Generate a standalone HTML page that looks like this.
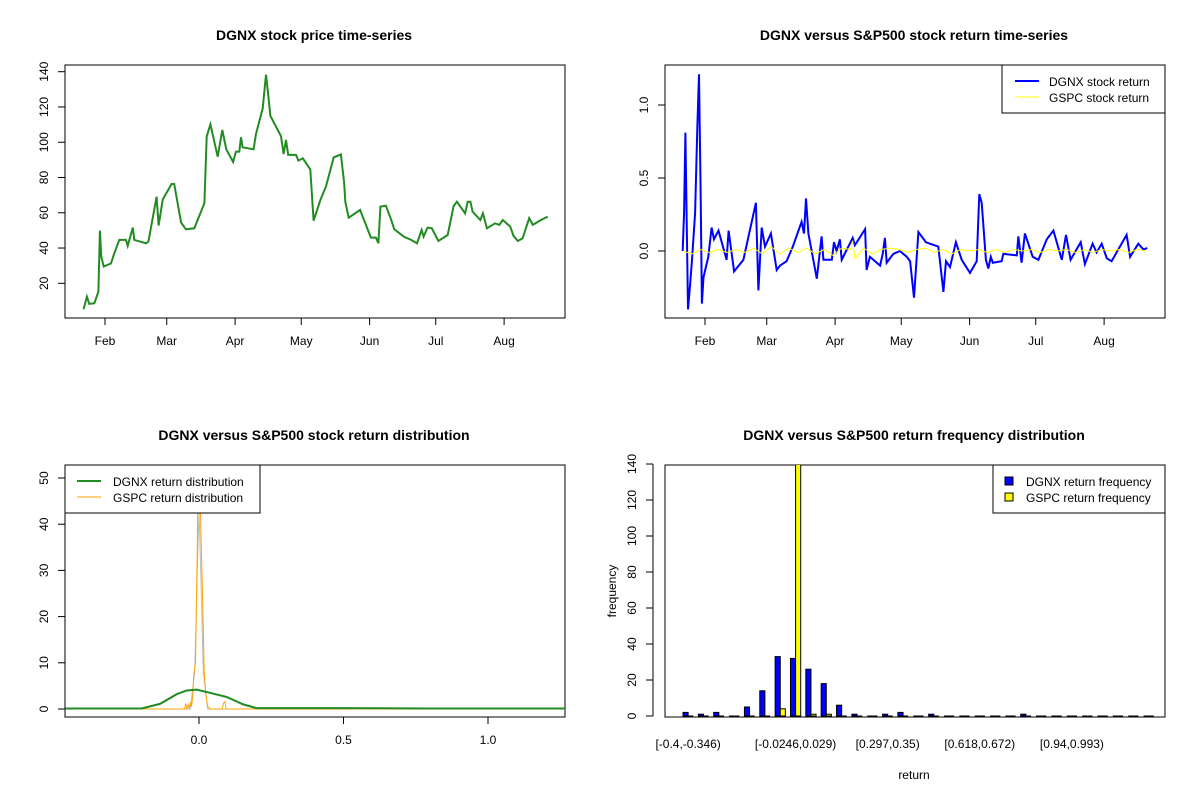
<!DOCTYPE html>
<html><head><meta charset="utf-8"><style>
body{margin:0;background:#fff;}
svg{display:block;font-family:"Liberation Sans",Arial,sans-serif;}
.t{font-weight:bold;font-size:14px;text-anchor:middle;}
.tk{font-size:12px;}
</style></head><body>
<svg id="svg" width="1200" height="800" viewBox="0 0 1200 800">
<defs>
<clipPath id="c1"><rect x="65" y="65" width="500" height="253"/></clipPath>
<clipPath id="c2"><rect x="665" y="65" width="500" height="253"/></clipPath>
<clipPath id="c3"><rect x="65" y="465" width="500" height="252"/></clipPath>
<clipPath id="c4"><rect x="665" y="465" width="500" height="252"/></clipPath>
</defs>
<rect width="1200" height="800" fill="#fff"/>
<text class="t" x="314" y="40">DGNX stock price time-series</text>
<text class="t" x="914" y="40">DGNX versus S&amp;P500 stock return time-series</text>
<text class="t" x="314" y="440">DGNX versus S&amp;P500 stock return distribution</text>
<text class="t" x="914" y="440">DGNX versus S&amp;P500 return frequency distribution</text>
<text class="tk" x="914" y="779" text-anchor="middle">return</text>
<text class="tk" x="616" y="591" text-anchor="middle" transform="rotate(-90 616 591)">frequency</text>
<g id="g1"></g>
<g id="g2"></g>
<g id="g3"></g>
<g id="g4"></g>
</svg>
<script>
// ---- data ----
const monthLabels = ["Feb","Mar","Apr","May","Jun","Jul","Aug"];
const monthDays = [32,60,91,121,152,182,213];
const priceDays = [22.3,23.8,24.9,27.2,29.0,29.7,30.3,31.4,34.7,36.2,38.5,41.5,42.3,44.6,45.3,50.6,51.7,55.4,56.3,58.2,62.2,63.4,66.5,68.7,72.5,77.1,78.1,79.8,83.1,85.2,87.0,90.1,91.4,92.9,93.7,94.4,99.4,100.5,103.5,105.0,105.8,107.0,111.8,113.0,114.1,115.1,118.6,119.7,121.7,125.1,126.6,129.7,132.2,135.7,139.0,140.5,141.0,142.5,147.7,152.6,154.9,156.0,156.9,159.4,161.7,163.2,167.5,170.8,173.5,175.6,176.5,178.3,180.2,183.2,187.4,190.1,191.6,195.3,196.5,197.7,198.7,202.2,203.4,205.2,208.9,210.8,212.4,215.8,217.2,219.2,221.4,224.4,226.0,229.7,232.8];
const priceValues = [5.3,12.4,8.3,8.7,15.3,49.9,35.1,29.5,31.3,37,44.6,44.6,41.2,51.6,44.6,42.7,43.6,69.1,52.7,67.6,76.3,76.3,54.4,50.6,51.2,65.4,103.2,110.2,91.8,107,96,88.8,94.7,94.7,102.8,97.1,96,104.7,119.2,138.3,129.6,114.9,103.5,93.3,101.3,92.8,92.8,89.6,90.9,84.6,55.5,67.3,74.8,91.4,93.1,76.7,66.3,57.2,61.6,45.9,45.9,42.7,63.5,64,56.3,50.6,46.5,44.6,42.7,50.2,46.5,51.6,51.2,44,47.4,63.8,66.3,59.7,66.3,66.3,60.6,55.9,59.7,51.2,54,53.1,55.9,52.1,47,44,45.5,56.9,53.1,55.9,57.8];
const priceTicks = [20,40,60,80,100,120,140];
const retDays = [21.9,22.5,23.1,23.7,24.3,25.2,26.1,27.5,28.5,29.3,30.0,30.6,31.3,33.5,35.0,36.1,38.1,41.8,42.7,45.2,49.4,55.1,56.2,57.7,59.2,61.9,64.5,66.0,69.0,71.8,75.8,76.9,77.8,78.9,82.7,84.9,85.7,89.5,90.5,91.7,93.2,94.0,99.0,100.0,104.6,105.3,106.8,111.4,112.6,113.6,114.4,117.4,120.4,123.5,125.0,126.8,128.8,132.2,134.0,137.8,140.1,141.3,143.1,145.8,148.4,152.2,155.2,156.4,157.5,159.4,160.5,161.6,162.5,166.5,167.3,173.4,174.1,175.6,177.1,180.6,183.2,187.0,190.0,193.8,195.7,197.8,202.4,204.3,207.8,209.6,211.9,214.2,216.4,223.2,224.8,228.5,230.8,232.6];
const dgnxReturns = [0,0.27,0.81,0.2,-0.4,-0.24,-0.06,0.26,0.84,1.21,0.42,-0.36,-0.18,-0.04,0.16,0.08,0.14,-0.06,0.14,-0.14,-0.06,0.33,-0.27,0.16,0.03,0.12,-0.13,-0.1,-0.07,0.03,0.2,0.12,0.36,0.12,-0.19,0.1,-0.06,-0.06,0.06,0,0.08,-0.06,0.09,0.04,0.15,-0.13,-0.04,-0.1,-0.02,0.09,-0.08,-0.02,0,-0.04,-0.07,-0.32,0.13,0.06,0.05,0.03,-0.28,-0.07,-0.11,0.06,-0.06,-0.15,-0.07,0.39,0.33,-0.06,-0.12,-0.04,-0.08,-0.07,-0.02,-0.03,0.1,-0.08,0.12,-0.04,-0.06,0.08,0.14,-0.06,0.11,-0.06,0.06,-0.09,0.05,-0.01,0.05,-0.05,-0.07,0.11,-0.04,0.05,0.01,0.02];
const gspcDays = [22,26,30,34,38,42,46,50,54,58,62,66,70,74,78,82,86,90,94,98,99,100,104,108,112,116,120,124,128,132,136,140,144,148,152,156,160,164,168,172,176,180,184,188,192,196,200,204,208,212,216,220,224,228,232];
const gspcReturns = [0,-0.02,0.01,-0.01,0.01,-0.01,0.01,-0.01,0.02,-0.02,0.03,-0.02,0.02,-0.01,0.02,-0.02,0.01,-0.03,0.02,0.01,0.07,-0.05,0.02,-0.02,0.01,0.02,0.01,-0.01,0.01,0.02,-0.01,0.01,-0.02,0.01,0,0.01,-0.01,0.01,-0.01,0.01,0,0.01,-0.01,0.01,0,0.01,-0.01,0.01,-0.01,0.01,0,0.01,-0.01,0.01,0];
const returnTicks = [0,0.5,1.0];
const returnTickLabels = ["0.0","0.5","1.0"];
const densX = [-0.463,-0.199,-0.135,-0.077,-0.043,-0.008,0.038,0.096,0.153,0.199,0.303,0.482,0.8,1.27];
const densDGNX = [0.1,0.1,1.1,3.2,4.0,4.2,3.5,2.6,1.0,0.2,0.2,0.2,0.1,0.1];
const densGX = [-0.46,-0.06,-0.05,-0.046,-0.042,-0.038,-0.034,-0.03,-0.026,-0.022,-0.018,-0.012,-0.006,-0.002,0.002,0.006,0.012,0.018,0.024,0.03,0.04,0.08,0.086,0.09,0.094,0.1,1.27];
const densGSPC = [0,0,0,1.2,0,1.0,0.2,1.3,0.5,2.5,7.5,10,35,58,55,40,25,8,3,0.5,0,0,1.4,1.6,0,0,0];
const densGreyX = [-0.46,-0.03,-0.015,-0.006,0,0.006,0.015,0.03,1.27];
const densGrey = [0,0,8,30,43,30,8,0,0];
const densXTicks = [0,0.5,1.0];
const densXTickLabels = ["0.0","0.5","1.0"];
const densYTicks = [0,10,20,30,40,50];
const histDGNX = [2,1,2,0,5,14,33,32,26,18,6,1,0,1,2,0,1,0,0,0,0,0,1,0,0,0,0,0,0,0,0];
const histGSPC = [0,0,0,0,0,0,4,160,1,1,0,0,0,0,0,0,0,0,0,0,0,0,0,0,0,0,0,0,0,0,0];
const histLabels = ["[-0.4,-0.346)","[-0.0246,0.029)","[0.297,0.35)","[0.618,0.672)","[0.94,0.993)"];
const histLabelIdx = [0,7,13,19,25];
const histYTicks = [0,20,40,60,80,100,120,140];

// ---- helpers ----
const NS="http://www.w3.org/2000/svg";
function mk(parent,tag,attrs,text){const e=document.createElementNS(NS,tag);for(const k in attrs)e.setAttribute(k,attrs[k]);if(text!==undefined)e.textContent=text;parent.appendChild(e);return e;}
function poly(xs,ys,fx,fy){return xs.map((d,i)=>fx(d).toFixed(1)+","+fy(ys[i]).toFixed(1)).join(" ");}
function box(g,x,y,w,h){const r=mk(g,"rect",{x:x,y:y,width:w,height:h,fill:"none",stroke:"#000","stroke-width":1});

}
function yAxis(g,ticks,labels,fy,x0,name){ticks.forEach((t,i)=>{const y=fy(t);
const l=mk(g,"line",{x1:x0,x2:x0-7,y1:y,y2:y,stroke:"#000"});


const tx=mk(g,"text",{x:x0-17,y:y,class:"tk","text-anchor":"middle",transform:"rotate(-90 "+(x0-17)+" "+y+")"},labels[i]);

});}
function xAxis(g,ticks,labels,fx,y0,name){ticks.forEach((t,i)=>{const x=fx(t);
const l=mk(g,"line",{x1:x,x2:x,y1:y0,y2:y0+7,stroke:"#000"});


const tx=mk(g,"text",{x:x,y:y0+27,class:"tk","text-anchor":"middle"},labels[i]);

});}

// ---- panel 1: price ----
const g1=document.getElementById("g1");
const px1=d=>65+40+(d-32)*2.205, py1=v=>283.3-(v-20)*1.7633;
box(g1,65,65,500,253);
const p1=mk(g1,"polyline",{points:poly(priceDays,priceValues,px1,py1),fill:"none",stroke:"#228B22","stroke-width":2,"clip-path":"url(#c1)"});


yAxis(g1,priceTicks,priceTicks.map(String),py1,65,'price-y-axis');
xAxis(g1,monthDays,monthLabels,px1,318,'price-x-axis');

// ---- panel 2: returns ----
const g2=document.getElementById("g2");
const px2=d=>665+40+(d-32)*2.205, py2=v=>251-v*146;
box(g2,665,65,500,253);
const p2=mk(g2,"polyline",{points:poly(retDays,dgnxReturns,px2,py2),fill:"none",stroke:"#0000FF","stroke-width":2,"clip-path":"url(#c2)"});


const p2b=mk(g2,"polyline",{points:poly(gspcDays,gspcReturns,px2,py2),fill:"none",stroke:"#FFFF00","stroke-width":1,"clip-path":"url(#c2)"});


yAxis(g2,returnTicks,returnTickLabels,py2,665,'return-y-axis');
xAxis(g2,monthDays,monthLabels,px2,318,'return-x-axis');
const lg2=mk(g2,"g",{});


mk(lg2,"rect",{x:1002,y:65,width:163,height:48,fill:"#fff",stroke:"#000"});
mk(lg2,"line",{x1:1015,x2:1039,y1:81,y2:81,stroke:"#0000FF","stroke-width":2});
mk(lg2,"line",{x1:1015,x2:1039,y1:97,y2:97,stroke:"#FFFF00","stroke-width":1});
mk(lg2,"text",{x:1049,y:86,class:"tk"},"DGNX stock return");
mk(lg2,"text",{x:1049,y:102,class:"tk"},"GSPC stock return");

// ---- panel 3: density ----
const g3=document.getElementById("g3");
const px3=v=>199+v*289, py3=v=>709-v*4.62;
box(g3,65,465,500,252);
const d1=mk(g3,"polyline",{points:poly(densGreyX,densGrey,px3,py3),fill:"none",stroke:"#BEBEBE","stroke-width":1,"clip-path":"url(#c3)"});


const d2=mk(g3,"polyline",{points:poly(densGX,densGSPC,px3,py3),fill:"none",stroke:"#FFA500","stroke-width":1,"clip-path":"url(#c3)"});


const d3=mk(g3,"polyline",{points:poly(densX,densDGNX,px3,py3),fill:"none",stroke:"#228B22","stroke-width":2,"clip-path":"url(#c3)"});


yAxis(g3,densYTicks,densYTicks.map(String),py3,65,'density-y-axis');
xAxis(g3,densXTicks,densXTickLabels,px3,717,'density-x-axis');
const lg3=mk(g3,"g",{});


mk(lg3,"rect",{x:65,y:465,width:195,height:48,fill:"#fff",stroke:"#000"});
mk(lg3,"line",{x1:77,x2:101,y1:481,y2:481,stroke:"#228B22","stroke-width":2});
mk(lg3,"line",{x1:77,x2:101,y1:497,y2:497,stroke:"#FFA500","stroke-width":1});
mk(lg3,"text",{x:113,y:486,class:"tk"},"DGNX return distribution");
mk(lg3,"text",{x:113,y:502,class:"tk"},"GSPC return distribution");

// ---- panel 4: histogram ----
const g4=document.getElementById("g4");
const ux=u=>677.9+u*5.117, hy=v=>716-v*1.8;
box(g4,665,465,500,252);
function bar(v,i,off,color,name){
  if(v>0){
    const r=mk(g4,"rect",{x:ux(3*i+off),y:hy(v),width:5.117,height:hy(0)-hy(v),fill:color,stroke:"#000","stroke-width":1,"clip-path":"url(#c4)"});
    
    
  } else {
    const l=mk(g4,"line",{x1:ux(3*i+off),x2:ux(3*i+off)+5.117,y1:hy(0),y2:hy(0),stroke:"#000","stroke-width":1});
    
    
  }
}
histDGNX.forEach((v,i)=>bar(v,i,1,"#0000FF","dgnx-bar"));
histGSPC.forEach((v,i)=>bar(v,i,2,"#FFFF00","gspc-bar"));
yAxis(g4,histYTicks,histYTicks.map(String),hy,653,'histogram-y-axis');
mk(g4,"line",{x1:653,x2:653,y1:hy(0),y2:hy(140),stroke:"#000"});
histLabelIdx.forEach((gi,k)=>{
const t=mk(g4,"text",{x:ux(3*gi+2),y:748,class:"tk","text-anchor":"middle"},histLabels[k]);


});
const lg4=mk(g4,"g",{});


mk(lg4,"rect",{x:993,y:465,width:172,height:48,fill:"#fff",stroke:"#000"});
mk(lg4,"rect",{x:1005,y:477,width:8,height:8,fill:"#0000FF",stroke:"#000"});
mk(lg4,"rect",{x:1005,y:493,width:8,height:8,fill:"#FFFF00",stroke:"#000"});
mk(lg4,"text",{x:1026,y:486,class:"tk"},"DGNX return frequency");
mk(lg4,"text",{x:1026,y:502,class:"tk"},"GSPC return frequency");
</script>
</body></html>
